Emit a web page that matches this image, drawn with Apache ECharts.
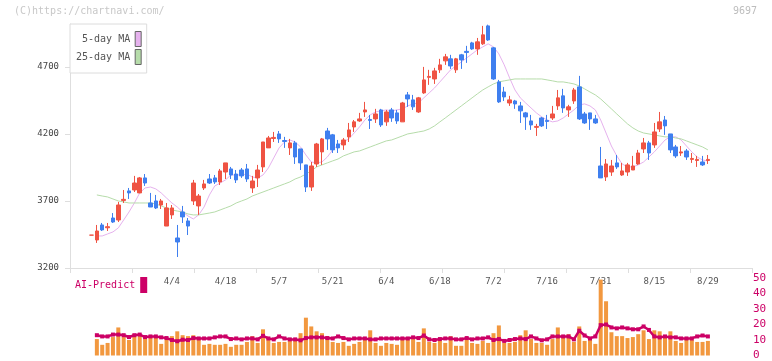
<!DOCTYPE html>
<html><head><meta charset="utf-8">
<script src="https://cdn.jsdelivr.net/npm/echarts@6/dist/echarts.min.js"></script>
<style>html,body{margin:0;padding:0;background:#fff}#c{width:772px;height:361px}</style>
</head><body><div id="c"></div>
<script>
const dates = ['3/13','3/14','3/17','3/18','3/19','3/21','3/24','3/25','3/26','3/27','3/28','3/31',
'4/1','4/2','4/3','4/4','4/7','4/8','4/9','4/10','4/11','4/14','4/15','4/16','4/17','4/18','4/21','4/22','4/23','4/24','4/25','4/28','4/30',
'5/1','5/2','5/7','5/8','5/9','5/12','5/13','5/14','5/15','5/16','5/19','5/20','5/21','5/22','5/23','5/26','5/27','5/28','5/29','5/30',
'6/2','6/3','6/4','6/5','6/6','6/9','6/10','6/11','6/12','6/13','6/16','6/17','6/18','6/19','6/20','6/23','6/24','6/25','6/26','6/27','6/30',
'7/1','7/2','7/3','7/4','7/7','7/8','7/9','7/10','7/11','7/14','7/15','7/16','7/17','7/18','7/22','7/23','7/24','7/25','7/28','7/29','7/30','7/31',
'8/1','8/4','8/5','8/6','8/7','8/8','8/12','8/13','8/14','8/15','8/18','8/19','8/20','8/21','8/22','8/25','8/26','8/27','8/28','8/29'];

const opens = [3445,3409,3521,3500,3573,3558,3704,3775,3782,3760,
3872,3685,3700,3670,3513,3596,3424,3618,3551,3700,
3663,3797,3864,3872,3842,3916,3939,3901,3931,3939,
3797,3872,3954,4096,4166,4200,4151,4096,4133,4088,
3969,3804,3976,4066,4222,4193,4125,4118,4178,4252,
4297,4364,4308,4312,4379,4290,4379,4357,4290,4491,
4454,4364,4506,4622,4610,4678,4745,4760,4678,4790,
4816,4879,4834,4872,5006,4842,4588,4513,4431,4446,
4409,4357,4297,4249,4319,4301,4319,4409,4484,4379,
4446,4551,4349,4357,4312,3961,3879,3916,3984,3894,
3916,3931,3976,4088,4133,4118,4237,4304,4200,4103,
4058,4073,4010,4002,3991,4002];

const closes = [3445,3476,3484,3508,3543,3670,3712,3760,3834,3872,
3834,3655,3648,3700,3648,3648,3394,3581,3513,3834,
3737,3827,3834,3842,3924,3984,3894,3857,3887,3864,
3849,3931,4140,4170,4174,4163,4144,4133,4028,3984,
3804,3961,4125,4163,4163,4081,4096,4155,4230,4290,
4312,4379,4301,4349,4267,4364,4319,4297,4431,4461,
4402,4469,4603,4629,4670,4715,4775,4707,4760,4752,
4808,4834,4887,4939,4901,4610,4439,4476,4454,4424,
4372,4327,4267,4256,4260,4293,4349,4469,4394,4402,
4528,4312,4282,4312,4282,3872,3976,3961,3954,3924,
3969,3961,4058,4133,4058,4215,4290,4260,4081,4036,
4066,4028,4017,4010,3969,4010];

const lows = [3445,3387,3476,3476,3536,3543,3685,3715,3767,3760,
3812,3655,3640,3640,3513,3566,3282,3536,3446,3670,
3596,3782,3827,3827,3819,3864,3864,3834,3872,3842,
3760,3804,3916,4096,4140,4133,4096,4043,3976,3931,
3767,3775,3954,3969,4081,4058,4058,4081,4140,4215,
4290,4327,4237,4282,4252,4260,4290,4275,4290,4402,
4379,4357,4499,4566,4573,4655,4715,4685,4655,4685,
4730,4827,4790,4864,4894,4603,4431,4446,4409,4387,
4282,4230,4230,4185,4252,4237,4304,4379,4357,4327,
4424,4304,4275,4230,4275,3872,3849,3887,3939,3887,
3887,3931,3969,4058,4006,4096,4215,4193,4058,4021,
4036,4006,3984,3954,3961,3976];

const highs = [3445,3521,3536,3536,3610,3693,3782,3797,3887,3879,
3901,3760,3745,3715,3685,3670,3521,3663,3573,3857,
3752,3857,3901,3894,3939,3984,3954,3931,3946,3976,
3887,3969,4140,4185,4215,4222,4178,4163,4148,4088,
3969,3991,4133,4170,4245,4200,4155,4170,4282,4304,
4357,4439,4342,4387,4387,4379,4394,4379,4439,4513,
4491,4476,4700,4678,4693,4760,4797,4790,4767,4797,
4857,4887,4916,5006,5015,4849,4603,4551,4484,4454,
4439,4364,4342,4275,4327,4342,4409,4528,4536,4417,
4543,4633,4364,4357,4342,4103,4013,4006,4043,3984,
3984,4036,4081,4170,4148,4282,4364,4334,4200,4118,
4110,4088,4058,4036,4036,4043];

const ma5 = [null,3439,3439,3454,3469,3499,3558,3618,3685,3760,
3797,3804,3790,3760,3722,3685,3655,3618,3588,3566,
3596,3655,3745,3812,3834,3857,3894,3894,3894,3901,
3879,3872,3894,3946,4021,4096,4140,4155,4140,4103,
4043,3991,3984,3991,4028,4081,4118,4140,4163,4207,
4252,4304,4342,4364,4372,4379,4372,4379,4387,4409,
4424,4431,4469,4506,4543,4588,4633,4678,4707,4737,
4767,4797,4827,4849,4872,4849,4797,4715,4618,4528,
4469,4431,4394,4357,4327,4304,4290,4297,4319,4349,
4379,4416,4424,4409,4379,4304,4207,4110,4036,3976,
3954,3954,3969,3991,4028,4066,4110,4155,4178,4178,
4155,4110,4066,4028,4006,3998];

const ma25 = [null,3745,3737,3730,3715,3700,3693,3685,3685,3685,
3685,3685,3678,3663,3648,3633,3625,3618,3603,3596,
3596,3603,3610,3618,3633,3648,3663,3685,3700,3715,
3737,3752,3767,3782,3797,3812,3827,3842,3864,3879,
3901,3924,3954,3969,3984,3999,4013,4036,4051,4066,
4073,4088,4103,4118,4133,4148,4155,4170,4185,4200,
4207,4215,4222,4237,4260,4290,4319,4349,4379,4409,
4439,4469,4499,4528,4551,4573,4588,4596,4603,4610,
4610,4610,4610,4610,4610,4603,4596,4588,4588,4581,
4573,4558,4536,4513,4491,4461,4424,4387,4349,4312,
4275,4245,4222,4207,4200,4193,4185,4178,4178,4170,
4163,4148,4133,4118,4103,4081];

const volume = [null,10.6,6.9,8.1,11.9,18.1,11.9,10,13.8,13.1,
11.9,11.9,11.9,7.5,11.25,12.5,15.6,13.1,12.5,13.1,
11.25,6.9,7.5,6.9,6.9,7.5,5.6,6.9,6.9,8.75,
12.5,8.1,16.9,11.25,8.1,8.75,8.75,9.4,9.4,14.4,
24.4,18.75,15.6,14.4,12.5,8.75,8.1,8.75,6.25,7.5,
8.75,11.25,16.25,8.1,6.25,8.1,7.5,6.9,10.4,10.2,
10.6,8.75,17.5,8.75,8.1,9.4,8.1,12.5,6.25,6.25,
10,8.1,7.5,9.4,8.1,14.4,19.4,8.1,8.1,8.75,
13.1,16.25,10.6,8.1,8.1,6.9,10.6,18.1,13.1,13.75,
8.75,18.75,9.4,10,7.5,49,35,15,12.5,12.5,
11.25,11.9,13.75,16.25,10.6,16.25,15.6,13.1,15.6,9.4,
8.1,10.6,10,8.75,8.75,9.4];

const aiPredict = [null,13.1,12.3,12.3,13.5,13.5,13.1,11.9,13.1,13.5,
11.9,12.3,12.3,11.7,11.25,10,9.2,10.2,10,11.25,
11,11,11,11.7,12.3,12.3,10.6,11,10.4,11,
11,10.4,12.7,11,10.4,12.3,11,10.4,10.4,9.8,
11.25,11.7,11.7,11.7,11.25,11,12.3,11.25,10.4,11,
11,11,10.4,10.4,11,11,11,11,11,11,
11.7,11.25,12.9,10.4,10,10.6,11,11,10.4,10.4,
11.25,10.4,11,11,11.7,10,10.6,9.4,10,10.6,
11,10.6,12.3,11,9.8,10.4,12.3,12.3,12.3,12.3,
10.4,16,12.9,11,12.3,19.6,20,18.1,17.5,18.1,
17.5,16.9,16.9,18.75,16.5,12.3,11.7,12.3,11.7,11.7,
11,11,11,12.3,12.9,12.3];

const priceTicks = [3200, 3700, 4200, 4700];
const volTicks = [0, 10, 20, 30, 40, 50];

const MONO = '"DejaVu Sans Mono","Liberation Mono",monospace';
const RED = '#ef5343', BLUE = '#3f7fef', ORANGE = '#f2983f', CRIMSON = '#cc0066';
const PINK = '#e6b2ee', GREEN = '#b6dcaa';

const frameLeft = 70, frameRight = 752, plotTop = 24, plotBottom = 268;
const slot = 5.36, firstX = 91.5;
const dataLeft = firstX - slot / 2;
const dataWidth = slot * dates.length;
const dataRight = dataLeft + dataWidth;

const chart = echarts.init(document.getElementById('c'), null, {renderer: 'canvas'});
const option = {
  animation: false,
  backgroundColor: '#fff',
  title: [
    {text: '(C)https://chartnavi.com/', left: 14, top: 6, padding: 0,
     textStyle: {fontFamily: MONO, fontSize: 10, fontWeight: 'normal', color: '#c8c8c8'}},
    {text: '9697', left: 733, top: 6, padding: 0,
     textStyle: {fontFamily: MONO, fontSize: 10, fontWeight: 'normal', color: '#bdbdbd'}}
  ],
  legend: [
    {data: ['5-day MA', '25-day MA'], left: frameLeft, top: plotTop, orient: 'vertical', align: 'right',
     icon: 'rect', itemWidth: 6, itemHeight: 15, itemGap: 2, padding: [7, 5, 8, 6],
     backgroundColor: '#fff', borderColor: '#dcdcdc', borderWidth: 1,
     itemStyle: {borderColor: '#666', borderWidth: 1},
     formatter: n => n === '5-day MA' ? ' 5-day MA' : n,
     textStyle: {fontFamily: MONO, fontSize: 10, color: '#555'}},
    {data: ['AI-Predict'], left: 75, top: 277, align: 'right', icon: 'rect',
     itemWidth: 7, itemHeight: 16, padding: 0,
     textStyle: {fontFamily: MONO, fontSize: 10, color: CRIMSON}}
  ],
  grid: [
    {left: frameLeft, width: frameRight - frameLeft, top: plotTop, height: plotBottom - plotTop},
    {left: dataLeft, width: dataWidth, top: plotTop, height: plotBottom - plotTop},
    {left: dataLeft, width: dataWidth, top: 278, height: 80}
  ],
  xAxis: [
    {gridIndex: 0, type: 'value', min: 0, max: 11, interval: 1,
     axisLine: {show: true, lineStyle: {color: '#dedede'}},
     axisTick: {show: true, length: 5, lineStyle: {color: '#dedede'}},
     axisLabel: {show: false}, splitLine: {show: false}},
    {gridIndex: 1, type: 'category', data: dates, boundaryGap: true,
     axisLine: {show: false}, axisTick: {show: false}, splitLine: {show: false},
     axisLabel: {interval: (i) => i >= 15 && (i - 15) % 10 === 0, margin: 9,
       fontFamily: MONO, fontSize: 9, color: '#555'}},
    {gridIndex: 2, type: 'category', data: dates, boundaryGap: true, show: false}
  ],
  yAxis: [
    {gridIndex: 0, type: 'value', min: 3200, max: 5020, interval: 500,
     axisLine: {show: true, lineStyle: {color: '#dedede'}},
     axisTick: {show: true, length: 5, customValues: priceTicks, lineStyle: {color: '#dedede'}},
     axisLabel: {customValues: priceTicks, formatter: v => String(v), margin: 11,
       fontFamily: MONO, fontSize: 9, color: '#444'},
     splitLine: {show: false}},
    {gridIndex: 1, type: 'value', min: 3200, max: 5020, show: false, splitLine: {show: false}},
    {gridIndex: 2, type: 'value', min: 0, max: 50, interval: 10, position: 'right',
     offset: frameRight - dataRight,
     axisLine: {show: false}, axisTick: {show: false}, splitLine: {show: false},
     axisLabel: {customValues: volTicks, formatter: v => String(v), margin: 1,
       fontFamily: MONO, fontSize: 11, color: CRIMSON}}
  ],
  series: [
    {name: '5-day MA', type: 'line', xAxisIndex: 1, yAxisIndex: 1, data: ma5, color: PINK,
     symbol: 'none', lineStyle: {width: 1, color: PINK}, z: 2},
    {name: '25-day MA', type: 'line', xAxisIndex: 1, yAxisIndex: 1, data: ma25, color: GREEN,
     symbol: 'none', lineStyle: {width: 1, color: GREEN}, z: 2},
    {name: 'price', type: 'candlestick', xAxisIndex: 1, yAxisIndex: 1, barWidth: 4, z: 3,
     data: dates.map((d, i) => [opens[i], closes[i], lows[i], highs[i]]),
     itemStyle: {color: RED, color0: BLUE, borderColor: RED, borderColor0: BLUE, borderWidth: 1}},
    {name: 'volume', type: 'bar', xAxisIndex: 2, yAxisIndex: 2, data: volume, barWidth: 4,
     itemStyle: {color: ORANGE}},
    {name: 'AI-Predict', type: 'line', xAxisIndex: 2, yAxisIndex: 2, data: aiPredict, color: CRIMSON,
     symbol: 'rect', symbolSize: 4, showAllSymbol: true,
     itemStyle: {color: CRIMSON}, lineStyle: {width: 2.5, color: CRIMSON}}
  ]
};
chart.setOption(option);
</script>
</body></html>
